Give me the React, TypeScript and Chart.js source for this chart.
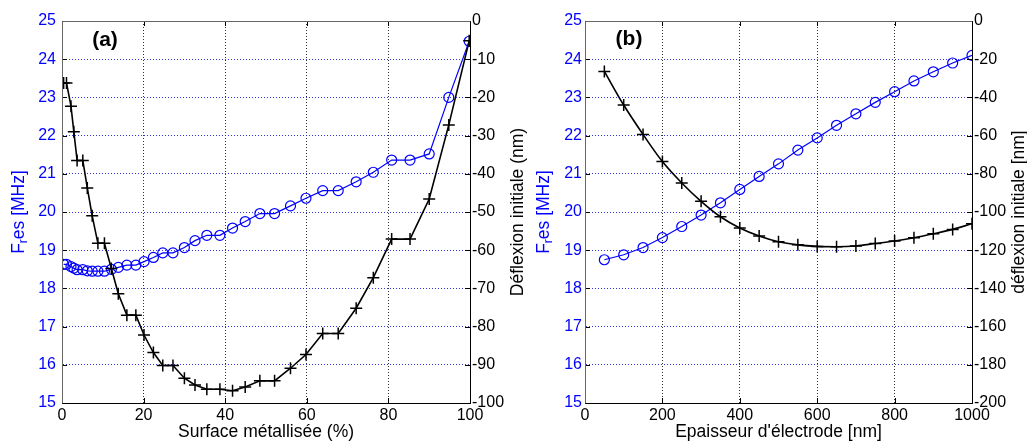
import { useEffect, useRef } from 'react';
import { Chart, registerables } from 'chart.js';

Chart.register(...registerables);

const FONT = "'Liberation Sans', Arial, Helvetica, sans-serif";
const BLUE = '#0000ff';

// ---------- Panel (a) ----------
const SURFACE_PCT = [0.4, 1.1, 2.2, 2.9, 3.7, 5.1, 6.2, 7.4, 8.8, 10.4, 12.1, 13.8, 15.9, 18.1, 20.1, 22.4, 24.7, 27.2, 30.0, 32.6, 35.5, 38.7, 41.8, 44.9, 48.5, 52.1, 56.0, 59.8, 63.9, 67.7, 72.1, 76.3, 80.8, 85.3, 90.0, 94.8, 99.8];
const A_FRES = [18.63, 18.63, 18.57, 18.53, 18.49, 18.49, 18.46, 18.45, 18.45, 18.45, 18.5, 18.55, 18.61, 18.61, 18.7, 18.81, 18.93, 18.93, 19.07, 19.25, 19.39, 19.39, 19.58, 19.75, 19.96, 19.96, 20.16, 20.36, 20.56, 20.56, 20.79, 21.04, 21.36, 21.36, 21.52, 23.0, 24.47];
const A_DEFL = [-16.2, -16.2, -22.3, -29.0, -36.5, -36.5, -43.7, -51.0, -58.2, -58.2, -64.8, -71.4, -77.0, -77.0, -82.2, -86.8, -90.2, -90.2, -93.5, -95.3, -96.4, -96.4, -96.8, -95.8, -94.2, -94.2, -90.9, -87.3, -81.8, -81.8, -75.2, -67.2, -57.1, -57.1, -46.6, -27.2, -5.2];

// ---------- Panel (b) ----------
const THICK_NM = [50, 100, 150, 200, 250, 300, 350, 400, 450, 500, 550, 600, 650, 700, 750, 800, 850, 900, 950, 1000];
const B_FRES = [18.75, 18.88, 19.07, 19.33, 19.62, 19.92, 20.24, 20.59, 20.93, 21.26, 21.62, 21.94, 22.27, 22.57, 22.87, 23.15, 23.43, 23.67, 23.9, 24.1];
const B_DEFL = [-26.4, -44.0, -59.4, -73.6, -84.8, -94.4, -102.5, -108.4, -112.6, -115.6, -117.2, -118.0, -118.2, -117.8, -116.5, -115.2, -113.5, -111.4, -109.1, -106.1];

const X_TITLE_A = 'Surface métallisée (%)';
const X_TITLE_B = "Epaisseur d'électrode [nm]";
const Y2_TITLE_A = 'Déflexion initiale (nm)';
const Y2_TITLE_B = 'déflexion initiale [nm]';
const LABEL_A = '(a)';
const LABEL_B = '(b)';

const TITLE_SIZE = 17.5;

type Part = { t: string; size: number; dy?: number };
const FRES_TITLE: Part[] = [
  { t: 'F', size: TITLE_SIZE },
  { t: 'r', size: 12, dy: 5 },
  { t: 'es [MHz]', size: TITLE_SIZE },
];

function drawRotated(ctx: CanvasRenderingContext2D, parts: Part[], cx: number, cy: number, color: string) {
  ctx.save();
  ctx.translate(cx, cy);
  ctx.rotate(-Math.PI / 2);
  ctx.fillStyle = color;
  ctx.textBaseline = 'middle';
  ctx.textAlign = 'left';
  const widths = parts.map((p) => {
    ctx.font = `${p.size}px ${FONT}`;
    return ctx.measureText(p.t).width;
  });
  const total = widths.reduce((a, b) => a + b, 0);
  let x = -total / 2;
  parts.forEach((p, i) => {
    ctx.font = `${p.size}px ${FONT}`;
    ctx.fillText(p.t, x, p.dy || 0);
    x += widths[i];
  });
  ctx.restore();
}

const framePlugin = {
  id: 'frame',
  afterDraw(chart: any, _args: any, opts: any) {
    const ctx: CanvasRenderingContext2D = chart.ctx;
    const { left, right, top, bottom } = chart.chartArea;
    ctx.save();
    ctx.lineWidth = 1;
    ctx.strokeStyle = '#000';
    const xs = chart.scales.x;
    xs.ticks.forEach((t: any) => {
      const px = Math.round(xs.getPixelForValue(t.value)) + 0.5;
      ctx.beginPath();
      ctx.moveTo(px, bottom);
      ctx.lineTo(px, bottom - 5);
      ctx.moveTo(px, top);
      ctx.lineTo(px, top + 5);
      ctx.stroke();
    });
    const ys = chart.scales.y;
    ys.ticks.forEach((t: any) => {
      const py = Math.round(ys.getPixelForValue(t.value)) + 0.5;
      ctx.beginPath();
      ctx.moveTo(left, py);
      ctx.lineTo(left + 5, py);
      ctx.stroke();
    });
    const y2 = chart.scales.y2;
    y2.ticks.forEach((t: any) => {
      const py = Math.round(y2.getPixelForValue(t.value)) + 0.5;
      ctx.beginPath();
      ctx.moveTo(right, py);
      ctx.lineTo(right - 5, py);
      ctx.stroke();
    });
    ctx.strokeStyle = '#666';
    ctx.beginPath();
    ctx.moveTo(Math.round(left) + 0.5, Math.round(bottom) + 0.5);
    ctx.lineTo(Math.round(left) + 0.5, Math.round(top) + 0.5);
    ctx.lineTo(Math.round(right) + 0.5, Math.round(top) + 0.5);
    ctx.stroke();
    ctx.strokeStyle = '#000';
    ctx.beginPath();
    ctx.moveTo(Math.round(left) + 0.5, Math.round(bottom) + 0.5);
    ctx.lineTo(Math.round(right) + 0.5, Math.round(bottom) + 0.5);
    ctx.lineTo(Math.round(right) + 0.5, Math.round(top) + 0.5);
    ctx.stroke();
    ctx.fillStyle = '#000';
    ctx.font = `bold 21px ${FONT}`;
    ctx.textAlign = 'center';
    ctx.textBaseline = 'middle';
    ctx.fillText(opts.label, opts.labelX, opts.labelY);
    const cy = (top + bottom) / 2;
    drawRotated(ctx, FRES_TITLE, opts.leftTitleX, cy, BLUE);
    drawRotated(ctx, [{ t: opts.rightTitle, size: TITLE_SIZE }], opts.rightTitleX, cy, '#000');
    ctx.restore();
  },
};

type PanelSpec = {
  xs: number[];
  fres: number[];
  defl: number[];
  xMin: number;
  xMax: number;
  xStep: number;
  y2Min: number;
  y2Step: number;
  leftW: number;
  rightW: number;
  leftPad: number;
  xTitle: string;
  smooth: boolean;
  frame: any;
};

function buildConfig(p: PanelSpec): any {
  const font = { family: FONT, size: 16 };
  const plain = (v: any) => String(v);
  return {
    type: 'line',
    data: {
      datasets: [
        {
          data: p.xs.map((x, i) => ({ x, y: p.defl[i] })),
          yAxisID: 'y2',
          borderColor: '#000',
          backgroundColor: '#000',
          borderWidth: 1.6,
          pointStyle: 'cross',
          pointRadius: 6,
          pointBorderWidth: 1.5,
          pointBorderColor: '#000',
          tension: p.smooth ? 0.4 : 0,
          cubicInterpolationMode: p.smooth ? 'monotone' : 'default',
          fill: false,
        },
        {
          data: p.xs.map((x, i) => ({ x, y: p.fres[i] })),
          yAxisID: 'y',
          borderColor: BLUE,
          backgroundColor: 'rgba(0,0,0,0)',
          borderWidth: 1.2,
          pointStyle: 'circle',
          pointRadius: 5,
          pointBorderWidth: 1.2,
          pointBorderColor: BLUE,
          pointBackgroundColor: 'rgba(0,0,0,0)',
          tension: 0,
          fill: false,
        },
      ],
    },
    options: {
      animation: false,
      responsive: false,
      devicePixelRatio: 1,
      layout: { padding: { top: 21, left: 0, right: 0, bottom: 0 } },
      plugins: {
        legend: { display: false },
        tooltip: { enabled: false },
        frame: p.frame,
      },
      scales: {
        x: {
          type: 'linear',
          position: 'bottom',
          min: p.xMin,
          max: p.xMax,
          ticks: { stepSize: p.xStep, autoSkip: false, maxRotation: 0, padding: 3, color: '#000', font, callback: plain },
          grid: { color: '#333', drawTicks: false, lineWidth: 1 },
          border: { display: true, color: '#000', dash: [1, 2] },
          title: { display: true, text: p.xTitle, color: '#000', font: { family: FONT, size: TITLE_SIZE, lineHeight: 1 }, padding: 0 },
          afterFit: (s: any) => {
            s.height = 38;
          },
        },
        y: {
          position: 'left',
          min: 15,
          max: 25,
          ticks: { stepSize: 1, color: BLUE, padding: p.leftPad, font, callback: plain },
          grid: { color: 'rgba(30,30,230,0.9)', drawTicks: false, lineWidth: 1 },
          border: { display: true, color: '#666', dash: [1, 2] },
          afterFit: (s: any) => {
            s.width = p.leftW;
          },
        },
        y2: {
          position: 'right',
          min: p.y2Min,
          max: 0,
          ticks: { stepSize: p.y2Step, color: '#000', padding: 2, font, callback: plain },
          grid: { display: false, drawTicks: false },
          border: { display: true, color: '#000' },
          afterFit: (s: any) => {
            s.width = p.rightW;
          },
        },
      },
    },
    plugins: [framePlugin],
  };
}

export default function App() {
  const refA = useRef<HTMLCanvasElement>(null);
  const refB = useRef<HTMLCanvasElement>(null);

  useEffect(() => {
    const a = new Chart(
      refA.current as HTMLCanvasElement,
      buildConfig({
        xs: SURFACE_PCT,
        fres: A_FRES,
        defl: A_DEFL,
        xMin: 0,
        xMax: 100,
        xStep: 20,
        y2Min: -100,
        y2Step: 10,
        leftW: 62,
        rightW: 65,
        leftPad: 6,
        xTitle: X_TITLE_A,
        smooth: false,
        frame: {
          label: LABEL_A,
          labelX: 105,
          labelY: 40,
          leftTitleX: 19,
          rightTitle: Y2_TITLE_A,
          rightTitleX: 518,
        },
      })
    );
    const b = new Chart(
      refB.current as HTMLCanvasElement,
      buildConfig({
        xs: THICK_NM,
        fres: B_FRES,
        defl: B_DEFL,
        xMin: 0,
        xMax: 1000,
        xStep: 200,
        y2Min: -200,
        y2Step: 20,
        leftW: 50,
        rightW: 55,
        leftPad: 3,
        xTitle: X_TITLE_B,
        smooth: true,
        frame: {
          label: LABEL_B,
          labelX: 94,
          labelY: 39,
          leftTitleX: 9,
          rightTitle: Y2_TITLE_B,
          rightTitleX: 484,
        },
      })
    );
    return () => {
      a.destroy();
      b.destroy();
    };
  }, []);

  return (
    <div style={{ position: 'absolute', left: 0, top: 0, width: 1027, height: 441, background: '#fff', overflow: 'hidden' }}>
      <canvas ref={refA} width={535} height={441} style={{ position: 'absolute', left: 0, top: 0, width: 535, height: 441 }} />
      <canvas ref={refB} width={492} height={441} style={{ position: 'absolute', left: 535, top: 0, width: 492, height: 441 }} />
    </div>
  );
}
